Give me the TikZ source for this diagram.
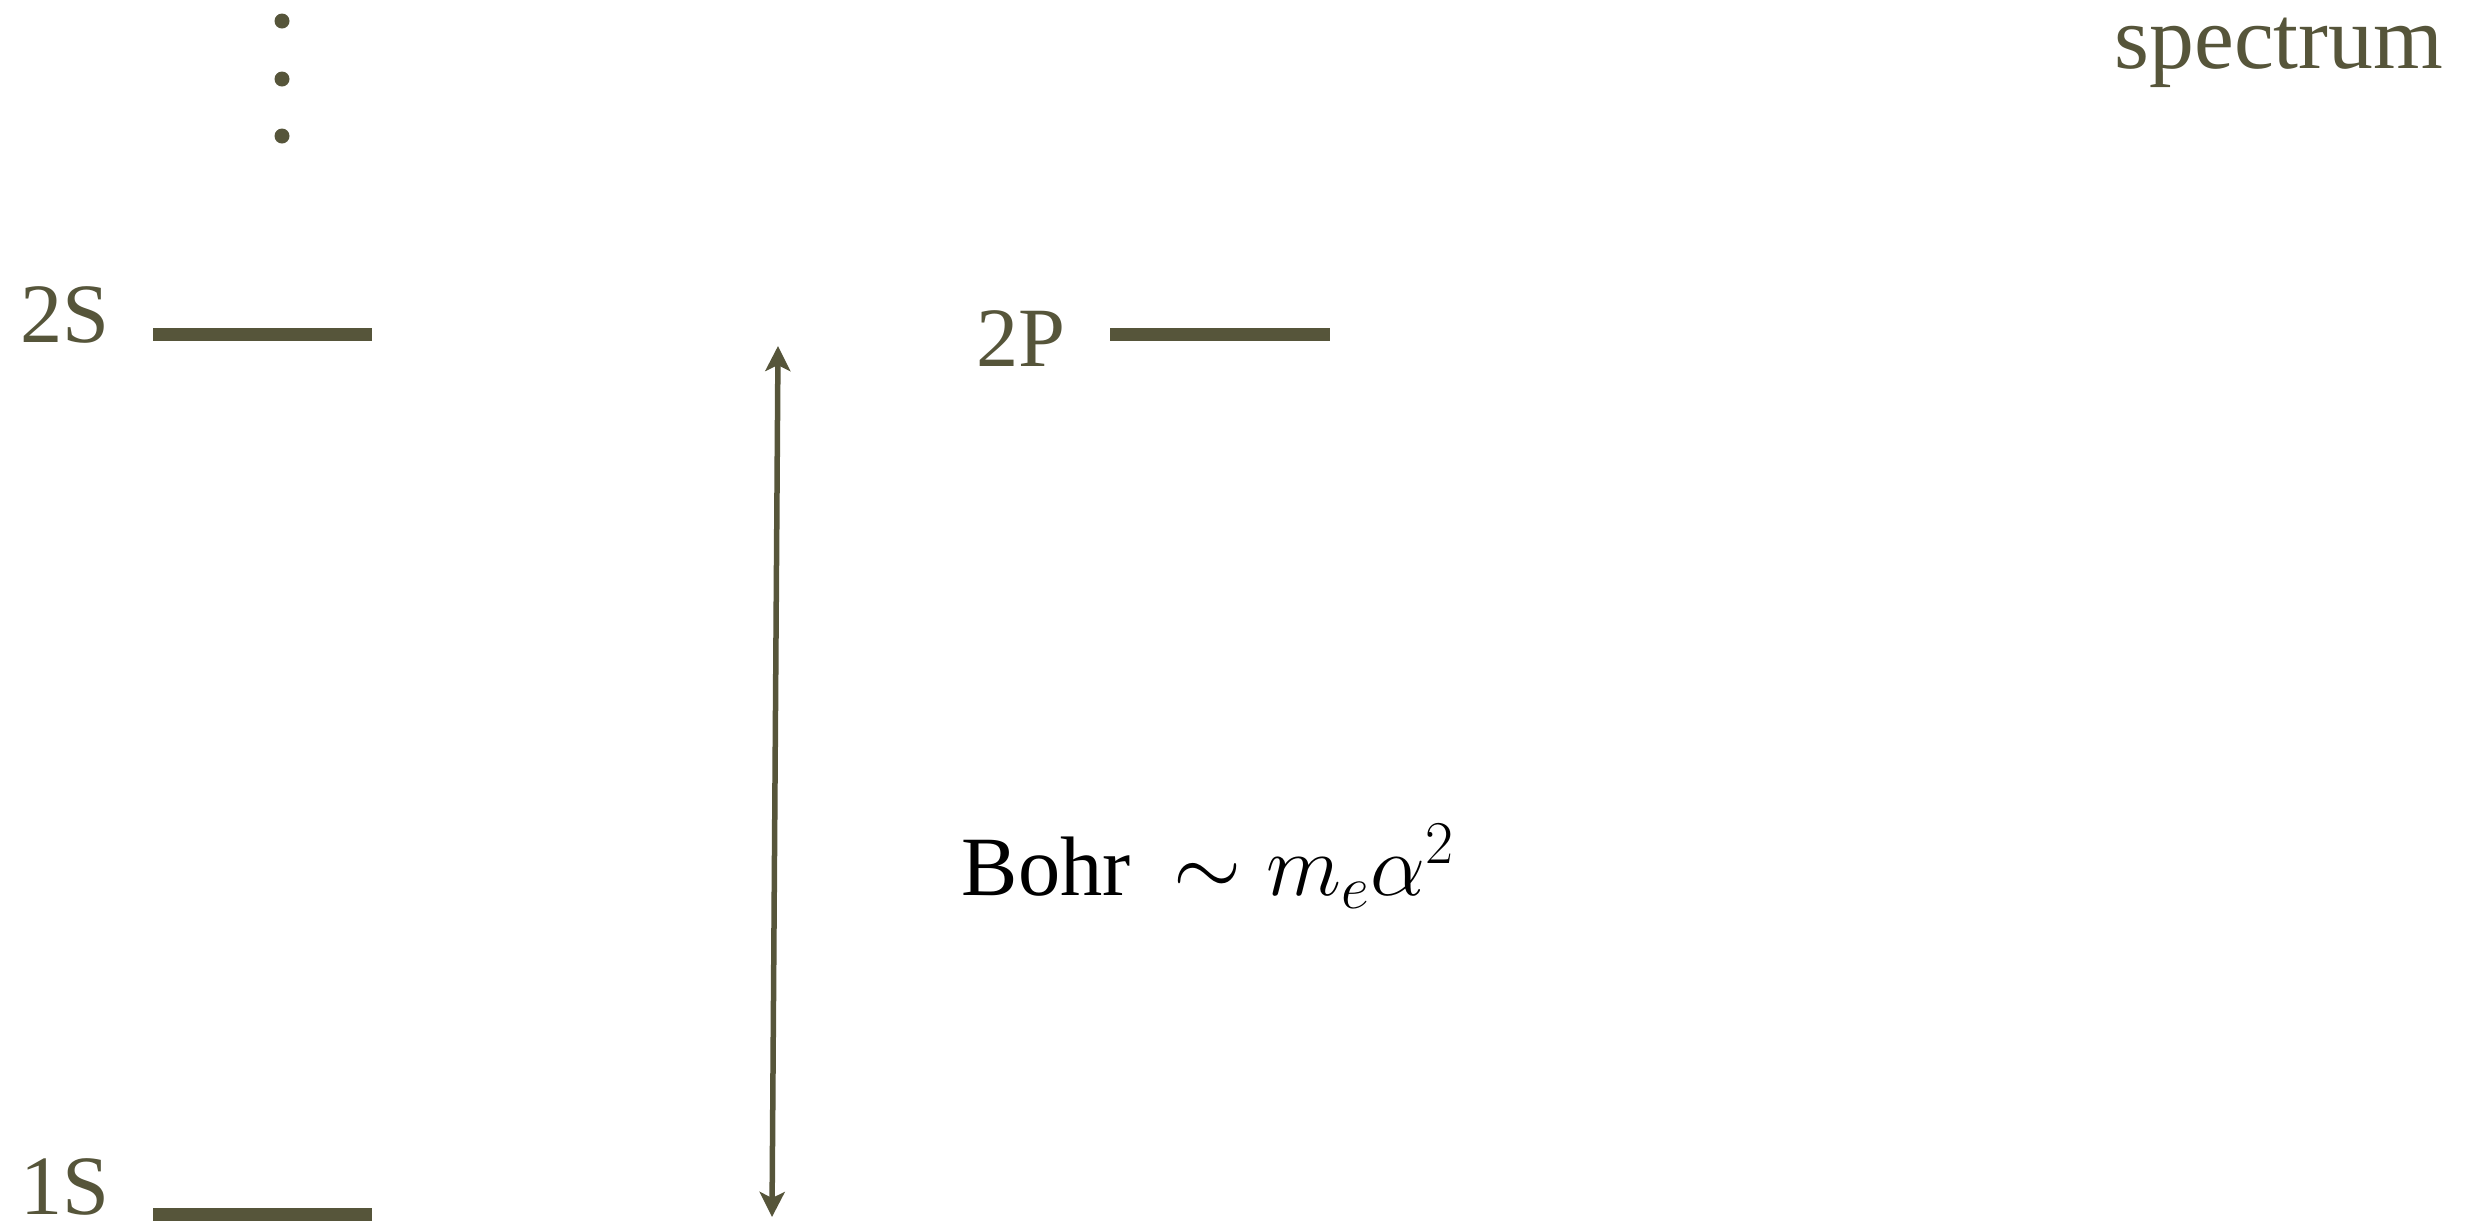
\documentclass[tikz,border=0pt]{standalone}
\usepackage{fontspec}
\setmainfont{Liberation Serif}
\usetikzlibrary{arrows.meta}
\definecolor{olive}{RGB}{86,85,58}
\tikzset{
  lvl/.style={draw=olive, line width=0.13cm},
  lbl/.style={text=olive, font=\fontsize{24}{28}\selectfont, inner sep=0pt, text depth=0pt, text height=0.66em, anchor=base east},
  dotpt/.style={fill=olive, draw=none},
  gap/.style={draw=olive, line width=0.055cm, {Stealth[length=0.25cm,width=0.25cm,inset=0.06cm]}-{Stealth[length=0.25cm,width=0.25cm,inset=0.06cm]}},
}
\begin{document}
\begin{tikzpicture}[x=0.01cm,y=-0.01cm]
\useasboundingbox (0,0) rectangle (2476,1229);
% dots
\fill[dotpt] (282,21) circle (7.5);
\fill[dotpt] (282,79) circle (7.5);
\fill[dotpt] (282,136) circle (7.5);
% levels
\coordinate (s2a) at (153,334.5); \coordinate (s2b) at (372,334.5);
\coordinate (s1a) at (153,1214.5); \coordinate (s1b) at (372,1214.5);
\coordinate (p2a) at (1110,334.5); \coordinate (p2b) at (1330,334.5);
\draw[lvl] (s2a) -- (s2b);
\draw[lvl] (s1a) -- (s1b);
\draw[lvl] (p2a) -- (p2b);
% labels
\node[lbl] (l2s) at (110,342) {2S};
\node[lbl] (l1s) at (110,1214) {1S};
\node[lbl] (l2p) at (1066,366) {2P};
\node[lbl, font=\fontsize{25.5}{30}\selectfont, text height=0.6em] (spec) at (2444,68) {spectrum};
% arrow
\coordinate (atop) at (778,346);
\coordinate (abot) at (772,1217);
\draw[gap] (abot) -- (atop);
% Bohr
\node[inner sep=0pt, anchor=base west, font=\fontsize{24}{28}\selectfont] (bohr) at (961,895) {Bohr};
\node[inner sep=0pt, anchor=base west, font=\fontsize{24}{28}\selectfont] (scale) at (1173,895) {$\sim m_e\alpha^2$};
\end{tikzpicture}
\end{document}
